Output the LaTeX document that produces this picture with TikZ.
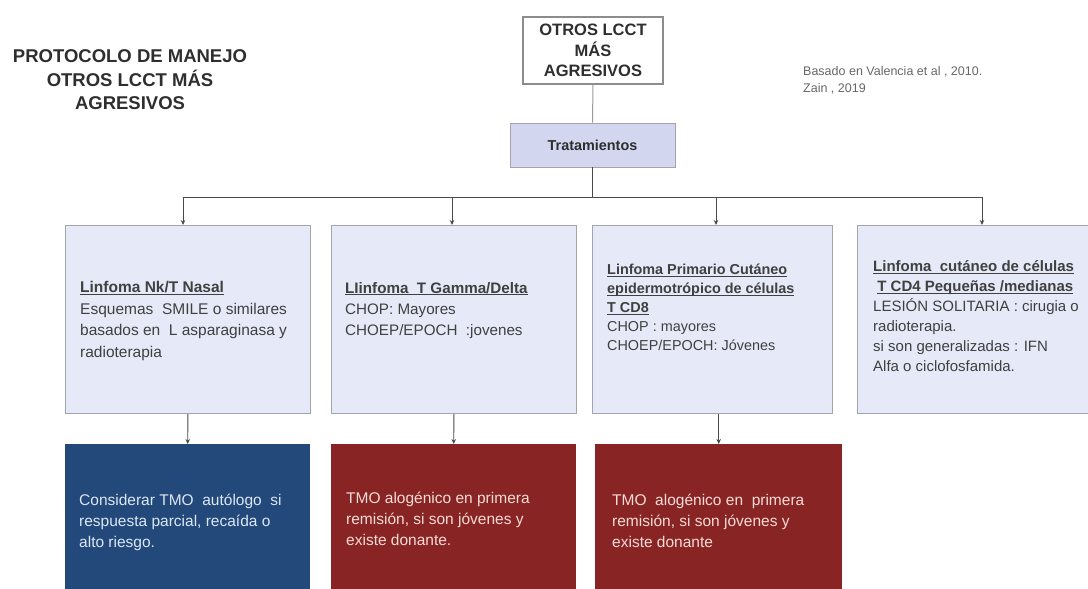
\documentclass[tikz,border=0pt]{standalone}
\usepackage{fontspec}
\setmainfont{Liberation Sans}
\usetikzlibrary{arrows.meta}

\definecolor{lav}{HTML}{E6E9F8}
\definecolor{lavdark}{HTML}{D2D6EE}
\definecolor{edgegray}{HTML}{A4A5AC}
\definecolor{navy}{HTML}{23497A}
\definecolor{wine}{HTML}{882424}
\definecolor{ink}{HTML}{2E2E2E}
\definecolor{body}{HTML}{404040}
\definecolor{linkgray}{HTML}{4A4A4A}
\definecolor{onblue}{HTML}{DCE6F4}
\definecolor{onred}{HTML}{F6DCD6}

% bold heading underlined just below the baseline, whatever the letters
\newcommand{\ulhead}[1]{\textbf{\underline{\raisebox{0pt}[\height][0pt]{#1}}}}

\begin{document}
\begin{tikzpicture}[x=1pt,y=-1pt,
  lbox/.style={draw=edgegray, fill=lav, line width=0.9pt, inner sep=0pt, anchor=north west},
  dbox/.style={draw=none, inner sep=0pt, anchor=north west},
  txt/.style={anchor=north west, inner sep=0pt, align=left, text=body},
  link/.style={draw=linkgray, line width=0.9pt},
  arr/.style={link, -{Stealth[length=5pt,width=4.5pt]}}
]
\useasboundingbox (0,0) rectangle (1088,589);

% heading and source note
\node[align=center, text=ink, font=\fontsize{18.5}{23.5}\selectfont\bfseries] (title) at (130,80)
  {PROTOCOLO DE MANEJO\\OTROS LCCT MÁS\\AGRESIVOS};
\node[anchor=north west, inner sep=0pt, align=left, text=black!60, font=\fontsize{12.5}{17}\selectfont] (src) at (803,66)
  {Basado en Valencia et al , 2010.\\Zain , 2019};

% root and treatment boxes
\node[draw=black!45, line width=1.3pt, fill=white, minimum width=140, minimum height=67,
      inner sep=0pt, align=center, text=ink, font=\fontsize{16.5}{20.5}\selectfont\bfseries] (root) at (593,50.5)
  {OTROS LCCT\\MÁS\\AGRESIVOS};
\node[draw=edgegray, line width=0.9pt, fill=lavdark, minimum width=165, minimum height=44,
      inner sep=0pt, text=ink, font=\fontsize{14.4}{17}\selectfont\bfseries] (trat) at (592.5,145)
  {Tratamientos};
\draw[draw=black!40, line width=1pt] (root.south) -- (trat.north);

% first row
\node[lbox, minimum width=245, minimum height=188] (b1) at (65,225) {};
\node[lbox, minimum width=245, minimum height=188] (b2) at (331,225) {};
\node[lbox, minimum width=240, minimum height=188] (b3) at (592,225) {};
\node[lbox, minimum width=232, minimum height=188] (b4) at (857,225) {};

\node[txt, font=\fontsize{15.5}{21.5}\selectfont] (t1) at (80,281.5)
  {\ulhead{Linfoma Nk/T Nasal}\\Esquemas\ \ SMILE o similares\\basados en\ \ L asparaginasa y\\radioterapia};
\node[txt, font=\fontsize{15.2}{21}\selectfont] (t2) at (345,282)
  {\ulhead{LIinfoma\ \ T Gamma/Delta}\\CHOP: Mayores\\CHOEP/EPOCH\ \ :jovenes};
\node[txt, font=\fontsize{14.4}{19}\selectfont] (t3) at (607,264)
  {\ulhead{Linfoma Primario Cutáneo}\\\ulhead{epidermotrópico de células}\\\ulhead{T CD8}\\CHOP : mayores\\CHOEP/EPOCH: Jóvenes};
\node[txt, font=\fontsize{15}{20}\selectfont] (t4) at (873,260.5)
  {\ulhead{Linfoma\ \ cutáneo de células}\\\textbf{\ }\ulhead{T CD4 Pequeñas /medianas}\\LESIÓN SOLITARIA : cirugia o\\radioterapia.\\si son generalizadas : IFN\\Alfa o ciclofosfamida.};

% distribution bus
\coordinate (k1) at (183,197);
\coordinate (k2) at (452,197);
\coordinate (k3) at (716,197);
\coordinate (k4) at (982,197);
\draw[link] (k1) -- (k4);
\draw[link] (trat.south) -- (trat.south |- k1);
\draw[arr] (k1) -- (k1 |- b1.north);
\draw[arr] (k2) -- (k2 |- b2.north);
\draw[arr] (k3) -- (k3 |- b3.north);
\draw[arr] (k4) -- (k4 |- b4.north);

% second row
\node[dbox, fill=navy, minimum width=245, minimum height=150] (r1) at (65,444) {};
\node[dbox, fill=wine, minimum width=245, minimum height=150] (r2) at (331,444) {};
\node[dbox, fill=wine, minimum width=247, minimum height=150] (r3) at (595,444) {};

\node[txt, text=onblue, font=\fontsize{15.5}{21}\selectfont] (u1) at (79,493.5)
  {Considerar TMO\ \ autólogo\ \ si\\respuesta parcial, recaída o\\alto riesgo.};
\node[txt, text=onred, font=\fontsize{15.5}{21}\selectfont] (u2) at (346,491.5)
  {TMO alogénico en primera\\remisión, si son jóvenes y\\existe donante.};
\node[txt, text=onred, font=\fontsize{15.5}{21}\selectfont] (u3) at (612,493.5)
  {TMO\ \ alogénico en\ \ primera\\remisión, si son jóvenes y\\existe donante};

\draw[arr] (b1.south) -- (r1.north);
\draw[arr] (b2.south) -- (r2.north);
\draw[arr] (r3.north |- b3.south) -- (r3.north);
\end{tikzpicture}
\end{document}
